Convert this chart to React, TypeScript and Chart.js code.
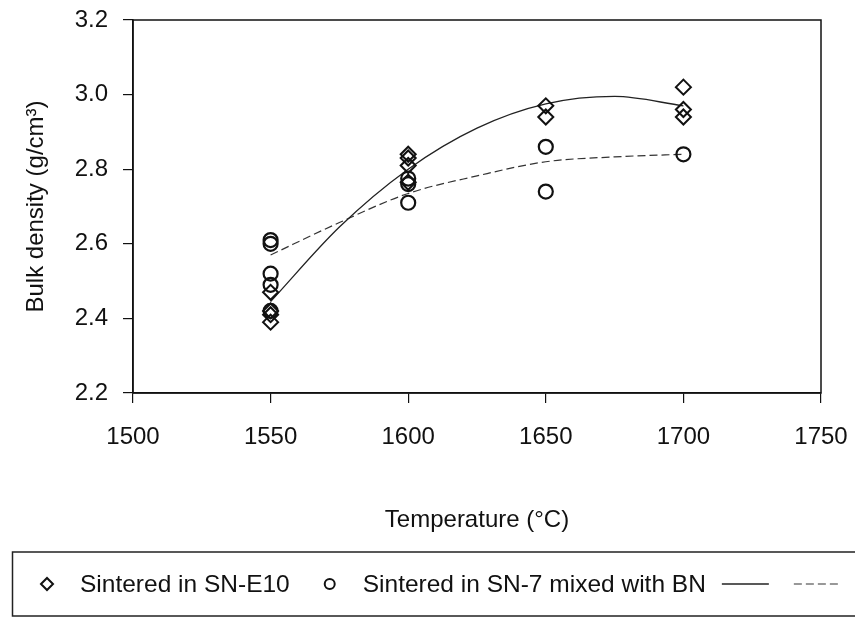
import React, { useEffect, useRef } from "react";
import { Chart, registerables } from "chart.js";

Chart.register(...registerables);

// ---- data ----
const tempsE10 = [1550, 1550, 1550, 1550, 1600, 1600, 1600, 1600, 1650, 1650, 1700, 1700, 1700];
const densityE10 = [2.47, 2.42, 2.41, 2.39, 2.84, 2.83, 2.81, 2.765, 2.97, 2.94, 3.02, 2.96, 2.94];

const tempsBN = [1550, 1550, 1550, 1550, 1550, 1600, 1600, 1600, 1650, 1650, 1700];
const densityBN = [2.61, 2.6, 2.52, 2.49, 2.42, 2.775, 2.76, 2.71, 2.86, 2.74, 2.84];

const fitTemps = [1550, 1575, 1600, 1625, 1650, 1675, 1700];
const fitE10 = [2.445, 2.645, 2.8, 2.91, 2.975, 2.995, 2.97];
const fitBN = [2.57, 2.657, 2.735, 2.782, 2.82, 2.833, 2.84];

const xTicks = [1500, 1550, 1600, 1650, 1700, 1750];
const yTicks = [2.2, 2.4, 2.6, 2.8, 3.0, 3.2];

const seriesLabels = ["Sintered in SN-E10", "Sintered in SN-7 mixed with BN", "", ""];
const xTitle = "Temperature (°C)";
const yTitle = "Bulk density (g/cm³)";

const FONT = '"Liberation Sans", Arial, Helvetica, sans-serif';
const INK = "#111";

const toPts = (xs: number[], ys: number[]) => xs.map((x, i) => ({ x, y: ys[i] }));

const zeroPadding = (s: any) => {
  s.paddingLeft = 0;
  s.paddingRight = 0;
  s.paddingTop = 0;
  s.paddingBottom = 0;
};

const framePlugin = {
  id: "frameAndLegend",
  beforeDatasetsDraw(chart: any) {
    const { ctx, chartArea: a } = chart;
    ctx.save();
    ctx.strokeStyle = INK;
    ctx.lineWidth = 1.5;
    ctx.strokeRect(a.left, a.top, a.right - a.left, a.bottom - a.top);
    ctx.restore();
  },
  afterDraw(chart: any) {
    const ctx = chart.ctx as CanvasRenderingContext2D;
    const top = chart.height - 66;
    const cy = top + 32;
    ctx.save();
    ctx.strokeStyle = "#222";
    ctx.lineWidth = 1.5;
    ctx.strokeRect(12.5, top, chart.width + 40, 64);
    ctx.font = `24.5px ${FONT}`;
    ctx.fillStyle = INK;
    ctx.textBaseline = "middle";
    ctx.textAlign = "left";
    let x = 47;
    let lineStart = 0;
    chart.data.datasets.forEach((ds: any) => {
      ctx.strokeStyle = ds.borderColor;
      ctx.lineWidth = 2;
      if (!ds.showLine) {
        ctx.setLineDash([]);
        ctx.beginPath();
        if (ds.pointStyle === "rectRot") {
          const r = 6;
          ctx.moveTo(x - r, cy);
          ctx.lineTo(x, cy - r);
          ctx.lineTo(x + r, cy);
          ctx.lineTo(x, cy + r);
          ctx.closePath();
        } else {
          ctx.arc(x, cy, 5, 0, Math.PI * 2);
        }
        ctx.stroke();
        const tx = x + 33;
        ctx.fillText(ds.label, tx, cy + 1);
        const w = ctx.measureText(ds.label).width;
        x = tx + w + 40;
        lineStart = tx + w + 16;
      } else {
        ctx.lineWidth = ds.borderWidth;
        ctx.setLineDash(ds.borderDash || []);
        ctx.beginPath();
        ctx.moveTo(lineStart, cy);
        ctx.lineTo(lineStart + 47, cy);
        ctx.stroke();
        lineStart += 72;
      }
    });
    ctx.restore();
  },
};

export default function App() {
  const ref = useRef<HTMLCanvasElement | null>(null);

  useEffect(() => {
    if (!ref.current) return;
    const font = { family: FONT, size: 24 };
    const chart = new Chart(ref.current, {
      type: "scatter",
      data: {
        datasets: [
          {
            label: seriesLabels[0],
            data: toPts(tempsE10, densityE10),
            pointStyle: "rectRot",
            pointRadius: 7.5,
            borderWidth: 2,
            borderColor: INK,
            backgroundColor: "rgba(255,255,255,0)",
            order: 0,
          },
          {
            label: seriesLabels[1],
            data: toPts(tempsBN, densityBN),
            pointStyle: "circle",
            pointRadius: 7,
            borderWidth: 2.2,
            borderColor: INK,
            backgroundColor: "rgba(255,255,255,0)",
            order: 1,
          },
          {
            label: seriesLabels[2],
            data: toPts(fitTemps, fitE10),
            showLine: true,
            pointRadius: 0,
            borderWidth: 1.3,
            borderColor: "#222",
            cubicInterpolationMode: "monotone",
            order: 2,
          },
          {
            label: seriesLabels[3],
            data: toPts(fitTemps, fitBN),
            showLine: true,
            pointRadius: 0,
            borderWidth: 1.2,
            borderColor: "#333",
            borderDash: [8, 4],
            cubicInterpolationMode: "monotone",
            order: 3,
          },
        ],
      } as any,
      options: {
        responsive: false,
        animation: false,
        devicePixelRatio: 1,
        layout: { padding: { top: 20, right: 34, bottom: 70, left: 0 } },
        plugins: { legend: { display: false }, tooltip: { enabled: false } },
        scales: {
          x: {
            type: "linear",
            min: 1500,
            max: 1750,
            afterBuildTicks: (s: any) => {
              s.ticks = xTicks.map((v) => ({ value: v }));
            },
            afterFit: (s: any) => {
              s.height = 155;
              zeroPadding(s);
            },
            grid: { drawOnChartArea: false, drawTicks: true, tickLength: 10, color: INK, lineWidth: 1.2 },
            border: { display: true, color: INK, width: 1.5 },
            ticks: {
              font,
              color: INK,
              padding: 20,
              maxRotation: 0,
              autoSkip: false,
              callback: (v: any) => String(v),
            },
            title: { display: true, text: xTitle, font, color: INK, padding: { top: 0, bottom: 13 } },
          },
          y: {
            type: "linear",
            min: 2.2,
            max: 3.2,
            afterBuildTicks: (s: any) => {
              s.ticks = yTicks.map((v) => ({ value: v }));
            },
            afterFit: (s: any) => {
              s.width = 133;
              zeroPadding(s);
            },
            grid: { drawOnChartArea: false, drawTicks: true, tickLength: 10, color: INK, lineWidth: 1.2 },
            border: { display: true, color: INK, width: 1.5 },
            ticks: {
              font,
              color: INK,
              padding: 15,
              autoSkip: false,
              callback: (v: any) => Number(v).toFixed(1),
            },
            title: { display: true, text: yTitle, font, color: INK, padding: { top: 22, bottom: 0 } },
          },
        },
      } as any,
      plugins: [framePlugin],
    });
    return () => chart.destroy();
  }, []);

  return (
    <div style={{ position: "absolute", left: 0, top: 0, width: 855, height: 618, background: "#fff" }}>
      <canvas ref={ref} width={855} height={618} style={{ display: "block" }} />
    </div>
  );
}
